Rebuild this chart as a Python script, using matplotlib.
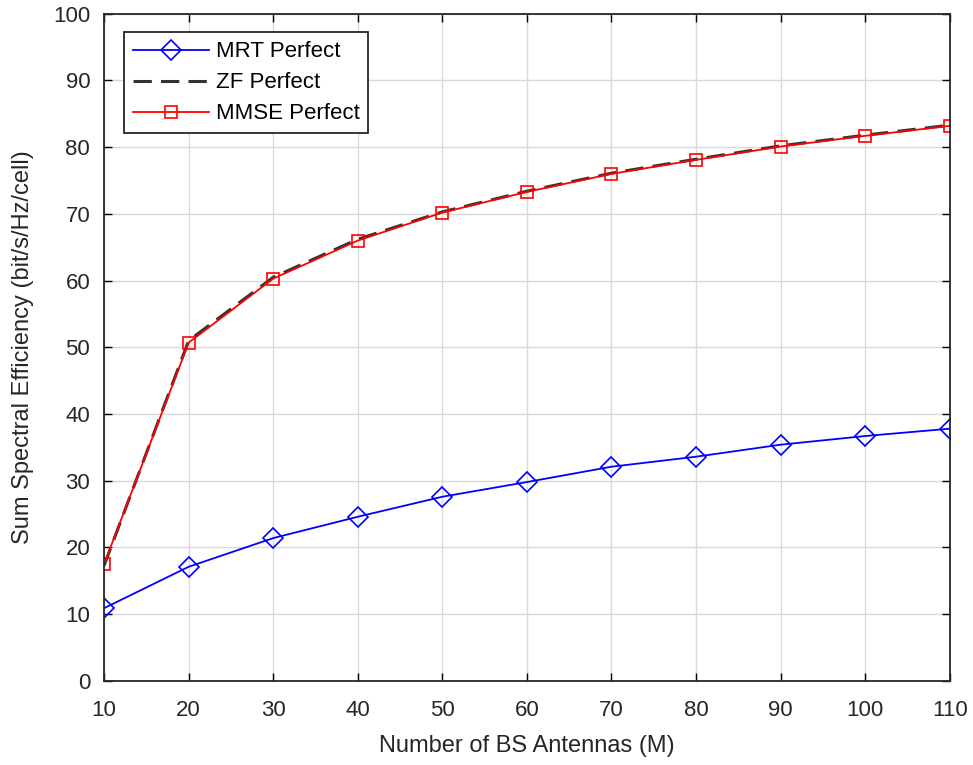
import matplotlib
matplotlib.use("Agg")
import matplotlib.pyplot as plt

# data
antennas = [10, 20, 30, 40, 50, 60, 70, 80, 90, 100, 110]
mrt_perfect = [10.9, 17.1, 21.4, 24.6, 27.6, 29.8, 32.1, 33.6, 35.4, 36.7, 37.8]
zf_perfect = [17.3, 51.0, 60.5, 66.2, 70.3, 73.4, 76.1, 78.2, 80.2, 81.8, 83.3]
mmse_perfect = [17.5, 50.7, 60.3, 66.0, 70.2, 73.3, 76.0, 78.1, 80.1, 81.7, 83.2]

x_ticks = list(range(10, 111, 10))
y_ticks = list(range(0, 101, 10))

plt.rcParams['font.family'] = ['Liberation Sans', 'DejaVu Sans']

fig = plt.figure(figsize=(9.73, 7.65), dpi=100)
ax = fig.add_axes([0.107, 0.110, 0.869, 0.872])

ax.plot(antennas, mrt_perfect, color="blue", marker="D", markersize=10,
        markerfacecolor="none", markeredgewidth=1.2, linewidth=1.3, label="MRT Perfect")
ax.plot(antennas, zf_perfect, color="#333333", linestyle=(0, (6, 3)), linewidth=2.2,
        label="ZF Perfect")
ax.plot(antennas, mmse_perfect, color="red", marker="s", markersize=9,
        markerfacecolor="none", markeredgewidth=1.2, linewidth=1.3, label="MMSE Perfect")

ax.set_xlim(10, 110)
ax.set_ylim(0, 100)
ax.set_xticks(x_ticks)
ax.set_yticks(y_ticks)
ax.tick_params(direction="in", top=True, right=True, labelsize=16, length=6, width=1,
               labelcolor="#262626")
ax.tick_params(axis="x", pad=14)
ax.tick_params(axis="y", pad=10)
ax.grid(True, color="#d9d9d9", linewidth=1)
for s in ax.spines.values():
    s.set_linewidth(1.3)
    s.set_color("#262626")

ax.set_xlabel("Number of BS Antennas (M)", fontsize=17, color="#262626", labelpad=10)
ax.set_ylabel("Sum Spectral Efficiency (bit/s/Hz/cell)", fontsize=17, color="#262626",
              labelpad=14)

leg = ax.legend(loc="upper left", bbox_to_anchor=(0.024, 0.972), fontsize=16,
                handlelength=3.4, fancybox=False, framealpha=1, edgecolor="#262626",
                borderaxespad=0, handletextpad=0.3, labelspacing=0.45, borderpad=0.4)
leg.get_frame().set_linewidth(1.3)

fig.savefig("out.png", dpi=100)
